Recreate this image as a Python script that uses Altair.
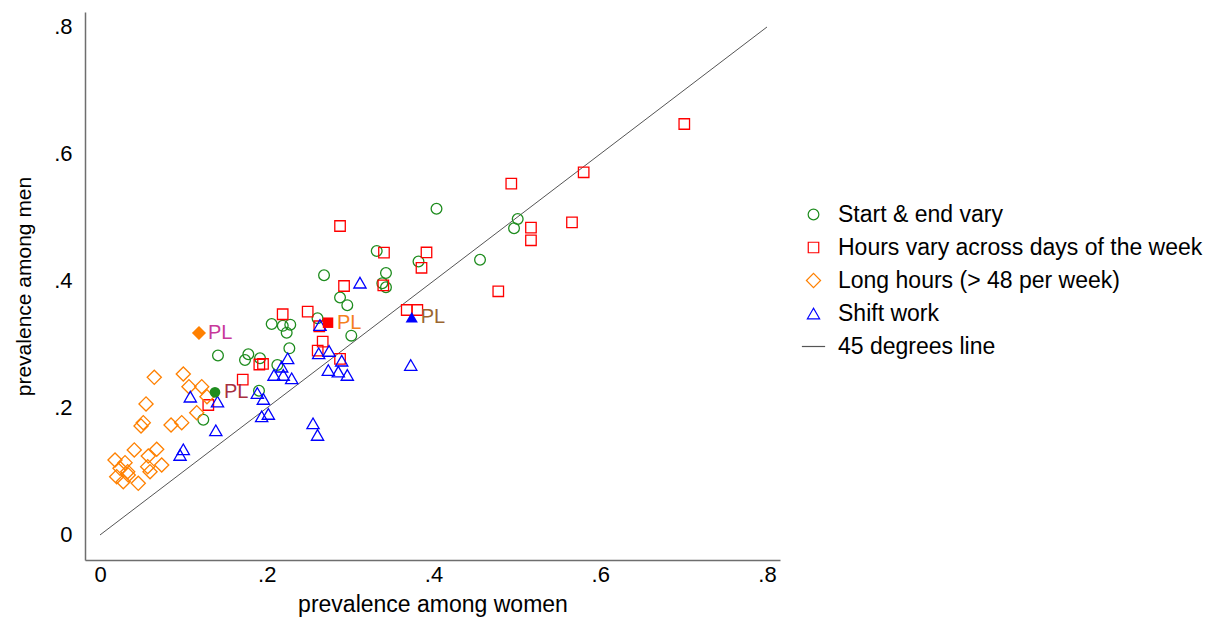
import altair as alt
import pandas as pd

# ---- data ----
series_names = ["Start & end vary", "Hours vary across days of the week",
                "Long hours (> 48 per week)", "Shift work", "45 degrees line"]

start_end_x = [0.4036, 0.5010, 0.4966, 0.4558, 0.3319, 0.3430, 0.3820, 0.3386, 0.3430, 0.2687,
               0.2879, 0.2966, 0.2059, 0.2192, 0.2282, 0.2239, 0.2609, 0.3014, 0.2271, 0.1779,
               0.1739, 0.1919, 0.2127, 0.1415, 0.1907, 0.1239]
start_end_y = [0.5137, 0.4976, 0.4830, 0.4335, 0.4472, 0.4126, 0.4307, 0.3964, 0.3901, 0.4090,
               0.3740, 0.3619, 0.3323, 0.3294, 0.3312, 0.3186, 0.3413, 0.3139, 0.2940, 0.2846,
               0.2756, 0.2783, 0.2677, 0.2827, 0.2272, 0.1816]

hours_vary_x = [0.7008, 0.5801, 0.4933, 0.5661, 0.5169, 0.5169, 0.3916, 0.3856, 0.4777, 0.2879,
                0.3406, 0.2927, 0.3398, 0.3679, 0.3806, 0.2491, 0.2191, 0.2630, 0.2671, 0.2611,
                0.2879, 0.1911, 0.1955, 0.1712, 0.1299]
hours_vary_y = [0.6472, 0.5712, 0.5532, 0.4924, 0.4839, 0.4641, 0.4449, 0.4208, 0.3838, 0.4866,
                0.4446, 0.3921, 0.3932, 0.3543, 0.3543, 0.3517, 0.3476, 0.3287, 0.3044, 0.2902,
                0.2772, 0.2685, 0.2693, 0.2446, 0.2047]

long_hours_x = [0.0651, 0.0999, 0.1067, 0.1220, 0.1283, 0.0552, 0.1160, 0.0519, 0.0492, 0.0852,
                0.0980, 0.0411, 0.0680, 0.0579, 0.0180, 0.0300, 0.0740, 0.0240, 0.0332, 0.0572,
                0.0600, 0.0200, 0.0339, 0.0279, 0.0459]
long_hours_y = [0.2483, 0.2535, 0.2335, 0.2335, 0.2178, 0.2063, 0.1926, 0.1769, 0.1717, 0.1732,
                0.1769, 0.1339, 0.1350, 0.1244, 0.1181, 0.1139, 0.1102, 0.1050, 0.0997, 0.1076,
                0.0997, 0.0918, 0.0945, 0.0839, 0.0814]

shift_x = [0.3118, 0.2639, 0.2251, 0.2179, 0.2087, 0.2198, 0.2299, 0.2623, 0.2747, 0.2899,
           0.2738, 0.2858, 0.2966, 0.3727, 0.1887, 0.1959, 0.1939, 0.2019, 0.2555, 0.2609,
           0.1083, 0.1409, 0.1389, 0.0999, 0.0960]
shift_y = [0.3973, 0.3307, 0.2783, 0.2650, 0.2520, 0.2520, 0.2468, 0.2861, 0.2898, 0.2745,
           0.2598, 0.2572, 0.2520, 0.2677, 0.2236, 0.2142, 0.1869, 0.1906, 0.1759, 0.1575,
           0.2178, 0.2102, 0.1649, 0.1350, 0.1260]

# Poland (highlighted) per series
pl_x = [0.1379, 0.2735, 0.1187, 0.3739]
pl_y = [0.2247, 0.3343, 0.3181, 0.3428]
pl_label = "PL"

line_x = [0.0, 0.8]
line_y = [0.0, 0.8]

tick_values = [0, 0.2, 0.4, 0.6, 0.8]

# ---- build tables ----
rows = []
for name, xs_, ys_ in [(series_names[0], start_end_x, start_end_y),
                       (series_names[1], hours_vary_x, hours_vary_y),
                       (series_names[2], long_hours_x, long_hours_y),
                       (series_names[3], shift_x, shift_y)]:
    for a, b in zip(xs_, ys_):
        rows.append({"x": a, "y": b, "series": name})
df = pd.DataFrame(rows)

df_pl = pd.DataFrame({"x": pl_x, "y": pl_y, "series": series_names[:4],
                      "label": [pl_label] * 4})
df_line = pd.DataFrame({"x": line_x, "y": line_y})

# ---- styling ----
FONT = "Liberation Sans"
colors = ["#1e8c1e", "#ff0000", "#ff8000", "#0000ff", "#555555"]
shapes = ["circle", "square", "diamond", "triangle-up", "M-3,0H3"]
sizes = [115, 110, 200, 150, 60]
label_colors = ["#a8303f", "#f5801e", "#c8399a", "#9a6630"]

xscale = alt.Scale(domain=[-0.018, 0.8156], nice=False, zero=False)
yscale = alt.Scale(domain=[-0.0394, 0.8236], nice=False, zero=False)
label_expr = "datum.value == 0 ? '0' : replace(format(datum.value, '.1f'), '0.', '.')"

xaxis = alt.Axis(values=tick_values, labelExpr=label_expr, ticks=False, grid=False,
                 domainColor="#6e6e6e", domainWidth=1.5, labelFontSize=22, labelPadding=4,
                 labelColor="#000", title="prevalence among women", titleFontSize=23,
                 titleFontWeight="normal", titleColor="#000", titlePadding=8,
                 labelFont=FONT, titleFont=FONT)
yaxis = alt.Axis(values=tick_values, labelExpr=label_expr, ticks=False, grid=False,
                 domainColor="#6e6e6e", domainWidth=1.5, labelFontSize=22, labelPadding=13,
                 labelColor="#000", title="prevalence among men", titleFontSize=21,
                 titleFontWeight="normal", titleColor="#000", titlePadding=19,
                 labelFont=FONT, titleFont=FONT)

legend = alt.Legend(title=None, orient="none", legendX=717, legendY=191,
                    labelFontSize=23, labelFont=FONT, labelColor="#000", labelLimit=0,
                    labelOffset=13, rowPadding=9, symbolStrokeWidth=1.2,
                    padding=0)

line = alt.Chart(df_line).mark_line(color="#555555", strokeWidth=1).encode(
    x=alt.X("x:Q", scale=xscale, axis=xaxis),
    y=alt.Y("y:Q", scale=yscale, axis=yaxis),
)

pts = alt.Chart(df).mark_point(filled=False, strokeWidth=1.3, opacity=1).encode(
    x=alt.X("x:Q", scale=xscale, axis=xaxis),
    y=alt.Y("y:Q", scale=yscale, axis=yaxis),
    color=alt.Color("series:N", scale=alt.Scale(domain=series_names, range=colors), legend=legend),
    shape=alt.Shape("series:N", scale=alt.Scale(domain=series_names, range=shapes), legend=legend),
    size=alt.Size("series:N", scale=alt.Scale(type="ordinal", domain=series_names, range=sizes),
                  legend=legend),
)

pl_pts = alt.Chart(df_pl).mark_point(filled=True, opacity=1).encode(
    x=alt.X("x:Q", scale=xscale),
    y=alt.Y("y:Q", scale=yscale),
    color=alt.Color("series:N", scale=alt.Scale(domain=series_names[:4], range=colors[:4]), legend=None),
    shape=alt.Shape("series:N", scale=alt.Scale(domain=series_names[:4], range=shapes[:4]), legend=None),
    size=alt.Size("series:N", scale=alt.Scale(type="ordinal", domain=series_names[:4], range=sizes[:4]),
                  legend=None),
)

pl_text = alt.Chart(df_pl).mark_text(align="left", baseline="middle", dx=9, fontSize=20,
                                     font=FONT).encode(
    x=alt.X("x:Q", scale=xscale),
    y=alt.Y("y:Q", scale=yscale),
    text="label:N",
    color=alt.Color("series:N", scale=alt.Scale(domain=series_names[:4], range=label_colors), legend=None),
)

chart = alt.layer(line, pts, pl_pts, pl_text).resolve_scale(
    color="independent", shape="independent", size="independent"
).properties(
    width=695, height=548,
    autosize=alt.AutoSizeParams(type="none"),
    padding={"left": 77, "top": 4, "right": 428, "bottom": 58},
    background="white",
).configure_view(stroke=None)

chart.save("out.html", embed_options={"renderer": "svg", "actions": False})
